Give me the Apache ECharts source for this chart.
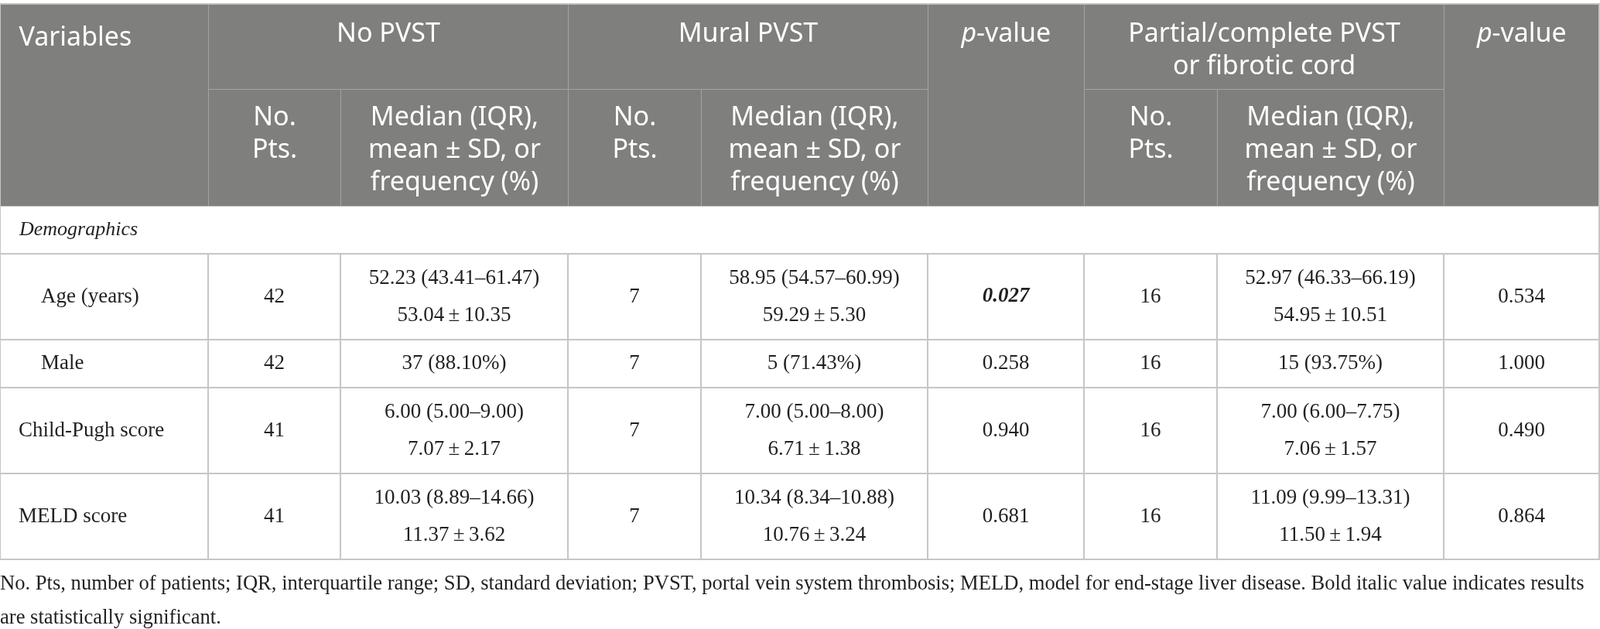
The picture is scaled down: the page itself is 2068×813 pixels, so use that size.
<!DOCTYPE html>
<html lang="en">

<head>
    <meta charset="UTF-8">
    <title>PVST table</title>
    <script src="https://cdn.jsdelivr.net/npm/echarts@6.0.0/dist/echarts.min.js"></script>
    <style>
        html, body { margin: 0; padding: 0; background: #fff; }
        #main { width: 2068px; height: 813px; }
    </style>
</head>

<body>
    <div id="main"></div>

    <script type="text/javascript">
        // table content
        let groups = ['No PVST', 'Mural PVST', 'Partial/complete PVST\nor fibrotic cord'];
        let countHead = 'No.\nPts.';
        let statHead = 'Median (IQR),\nmean ± SD, or\nfrequency (%)';
        let pHeads = ['{i|p}-value', '{j|p}-value'];
        let section = 'Demographics';

        let variables = ['Age (years)', 'Male', 'Child-Pugh score', 'MELD score'];
        let indented = [true, true, false, false];

        let noPvstCount = ['42', '42', '41', '41'];
        let noPvstStat = [
            '52.23 (43.41–61.47)\n53.04 ± 10.35',
            '37 (88.10%)',
            '6.00 (5.00–9.00)\n7.07 ± 2.17',
            '10.03 (8.89–14.66)\n11.37 ± 3.62'
        ];
        let muralCount = ['7', '7', '7', '7'];
        let muralStat = [
            '58.95 (54.57–60.99)\n59.29 ± 5.30',
            '5 (71.43%)',
            '7.00 (5.00–8.00)\n6.71 ± 1.38',
            '10.34 (8.34–10.88)\n10.76 ± 3.24'
        ];
        let muralP = ['0.027', '0.258', '0.940', '0.681'];
        let muralSig = [true, false, false, false];
        let partialCount = ['16', '16', '16', '16'];
        let partialStat = [
            '52.97 (46.33–66.19)\n54.95 ± 10.51',
            '15 (93.75%)',
            '7.00 (6.00–7.75)\n7.06 ± 1.57',
            '11.09 (9.99–13.31)\n11.50 ± 1.94'
        ];
        let partialP = ['0.534', '1.000', '0.490', '0.864'];

        let footnote = 'No. Pts, number of patients; IQR, interquartile range; SD, standard deviation; PVST, portal vein system thrombosis; MELD, model for end-stage liver disease. Bold italic value indicates results\nare statistically significant.';

        // layout
        let colWidths = [269, 171, 294, 172, 293, 202, 172, 293, 202];
        let headRows = [110, 151];
        let rowHeights = [62, 111, 62, 111, 111];

        let headColor = '#7f807e';
        let headLine = '#a3a3a3';
        let bodyLine = '#c6c6c6';
        let textColor = '#231f20';
        let sans = 'Noto Sans';
        let serif = 'Liberation Serif';

        let myChart = echarts.init(document.getElementById('main'));

        // header values have to be unique, so repeated headers get a zero-width tail
        let uniq = function (text, n) {
            return text + '\u200b'.repeat(n);
        };
        // tighter spacing round the ± sign, like the print
        let pm = function (s) {
            return s.replace(' ± ', '\u2009±\u2009');
        };

        let headTop = { position: 'insideTop', distance: 16 };
        let subTop = { position: 'insideTop', distance: 14 };

        let xData = [
            { value: 'Variables', size: colWidths[0], label: { position: 'insideTopLeft', distance: 21 } },
            {
                value: groups[0], label: headTop,
                children: [
                    { value: uniq(countHead, 0), size: colWidths[1], label: subTop },
                    { value: uniq(statHead, 0), size: colWidths[2], label: subTop }
                ]
            },
            {
                value: groups[1], label: headTop,
                children: [
                    { value: uniq(countHead, 1), size: colWidths[3], label: subTop },
                    { value: uniq(statHead, 1), size: colWidths[4], label: subTop }
                ]
            },
            { value: pHeads[0], size: colWidths[5], label: headTop },
            {
                value: groups[2], label: headTop,
                children: [
                    { value: uniq(countHead, 2), size: colWidths[6], label: subTop },
                    { value: uniq(statHead, 2), size: colWidths[7], label: subTop }
                ]
            },
            { value: pHeads[1], size: colWidths[8], label: headTop }
        ];

        let yData = [section].concat(variables).map(function (name, i) {
            return { value: name, size: rowHeights[i] };
        });

        let cells = [{
            coord: [[0, 8], 0],
            mergeCells: true,
            value: section,
            label: { position: 'insideLeft', distance: 22, fontStyle: 'italic', fontSize: 26, offset: [0, 0] }
        }];
        variables.forEach(function (name, i) {
            let r = i + 1;
            let row = [name, noPvstCount[i], pm(noPvstStat[i]), muralCount[i], pm(muralStat[i]),
                muralP[i], partialCount[i], pm(partialStat[i]), partialP[i]];
            row.forEach(function (v, c) {
                let cell = { coord: [c, r], value: v };
                if (c === 0) {
                    cell.label = { position: 'insideLeft', distance: indented[i] ? 50 : 21 };
                }
                if (c === 5 && muralSig[i]) {
                    cell.label = { fontStyle: 'italic', fontWeight: 'bold' };
                }
                cells.push(cell);
            });
        });

        let pStyle = { fontStyle: 'italic', fontFamily: sans, fontSize: 34, color: '#fff' };

        let option = {
            matrix: {
                left: 0,
                right: 1,
                top: 5,
                height: 718,
                backgroundStyle: { color: '#fff', borderColor: bodyLine, borderWidth: 2 },
                x: {
                    data: xData,
                    levels: [{ levelSize: headRows[0] }, { levelSize: headRows[1] }],
                    itemStyle: { color: headColor, borderColor: headLine, borderWidth: 1 },
                    label: {
                        color: '#fff', fontFamily: sans, fontSize: 34, lineHeight: 42,
                        rich: { i: pStyle, j: pStyle }
                    }
                },
                y: {
                    show: false,
                    data: yData
                },
                body: {
                    data: cells,
                    itemStyle: { color: '#fff', borderColor: bodyLine, borderWidth: 2 },
                    label: { color: textColor, fontFamily: serif, fontSize: 27, lineHeight: 48, offset: [0, 3] }
                }
            },
            title: {
                text: footnote,
                left: -5,
                top: 728,
                textStyle: {
                    color: textColor, fontFamily: serif, fontSize: 26.6, fontWeight: 'normal', lineHeight: 44
                }
            }
        };

        myChart.setOption(option);
    </script>
</body>

</html>
